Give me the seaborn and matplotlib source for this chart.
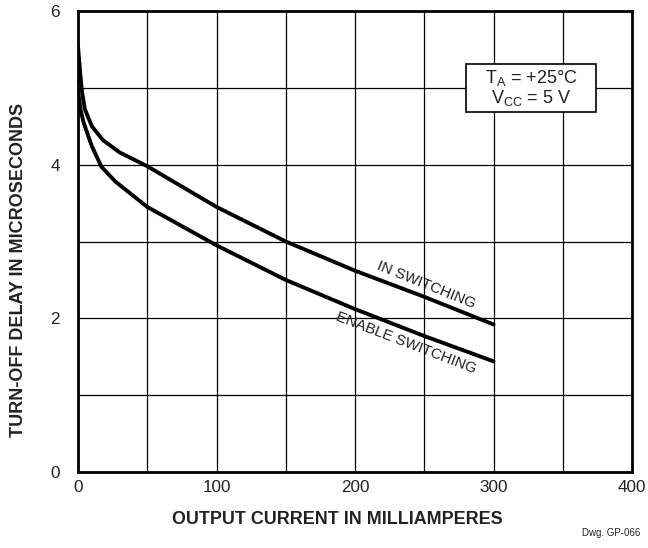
import pandas as pd
import numpy as np
import matplotlib.pyplot as plt
import seaborn as sns
from matplotlib.patches import Rectangle

# corriente de salida (mA) y retardo de apagado (us)
corriente_in = [0, 1.5, 3, 5, 10, 18, 30, 50, 100, 150, 200, 250, 300]
retardo_in = [5.54, 5.2, 4.93, 4.72, 4.5, 4.32, 4.16, 3.98, 3.45, 3.0, 2.62, 2.28, 1.92]

corriente_enable = [0, 2, 4, 10, 17, 27, 50, 100, 150, 200, 250, 300]
retardo_enable = [4.95, 4.7, 4.55, 4.24, 3.97, 3.78, 3.45, 2.95, 2.5, 2.12, 1.77, 1.44]

etiquetas_x = [0, 100, 200, 300, 400]
etiquetas_y = [0, 2, 4, 6]

df = pd.concat([
    pd.DataFrame({'mA': corriente_in, 'us': retardo_in, 'curva': 'IN SWITCHING'}),
    pd.DataFrame({'mA': corriente_enable, 'us': retardo_enable, 'curva': 'ENABLE SWITCHING'}),
])

sns.set_style("white")
plt.rcParams['font.family'] = ['Liberation Sans', 'DejaVu Sans']

fig = plt.figure(figsize=(6.48, 5.48), dpi=100)
ax = fig.add_axes([0.1204, 0.1387, 0.8549, 0.8412])

sns.lineplot(data=df, x='mA', y='us', units='curva', estimator=None, sort=False,
             color='black', linewidth=2.8, ax=ax, legend=False)

ax.set_xlim(0, 400)
ax.set_ylim(0, 6)
ax.set_xticks(etiquetas_x)
ax.set_yticks(etiquetas_y)
ax.set_xticks(np.arange(0, 401, 50), minor=True)
ax.set_yticks(np.arange(0, 7, 1), minor=True)
ax.grid(True, which='both', color='black', linewidth=0.9)
ax.tick_params(which='both', length=0, labelsize=12.3, colors='#222222')
ax.tick_params(axis='x', pad=6)
ax.tick_params(axis='y', pad=13)
for s in ax.spines.values():
    s.set_color('black')
    s.set_linewidth(2.0)

ax.set_xlabel('OUTPUT CURRENT IN MILLIAMPERES', fontweight='bold', fontsize=12.9,
              color='#222222', va='center')
ax.xaxis.set_label_coords(0.4675, -0.103)
ax.set_ylabel('TURN-OFF DELAY IN MICROSECONDS', fontweight='bold', fontsize=13.0,
              color='#222222', va='center')
ax.yaxis.set_label_coords(-0.108, 0.438)

# recuadro de condiciones
ax.add_patch(Rectangle((280, 4.69), 94, 0.62, fc='white', ec='black', lw=1.2, zorder=3))
ax.text(327, 5.0, 'T$_\\mathregular{A}$ = +25°C\nV$_\\mathregular{CC}$ = 5 V',
        ha='center', va='center', fontsize=13, color='#222222', linespacing=1.0, zorder=4)

ax.text(251.5, 2.43, 'IN SWITCHING', rotation=-22, ha='center', va='center',
        fontsize=10.8, color='#222222', rotation_mode='anchor')
ax.text(236.5, 1.68, 'ENABLE SWITCHING', rotation=-21, ha='center', va='center',
        fontsize=10.8, color='#222222', rotation_mode='anchor')

fig.text(0.988, 0.027, 'Dwg. GP-066', ha='right', va='center', fontsize=7, color='#222222')

plt.savefig('out.png', dpi=100)
